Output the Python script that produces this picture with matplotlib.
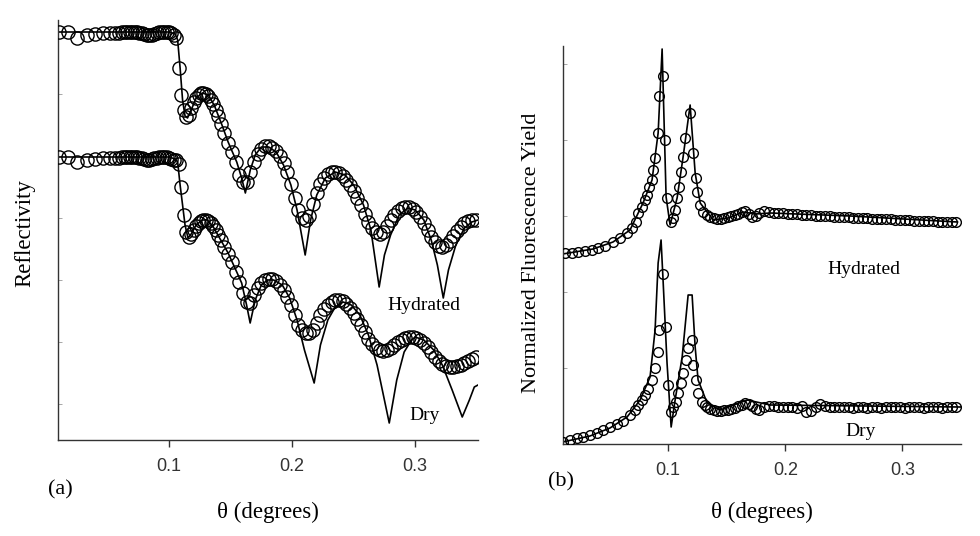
import matplotlib
matplotlib.use("Agg")
import matplotlib.pyplot as plt

# ---------- (a) reflectivity: measured angles (deg) and log-reflectivity (arb.) ----------
theta_refl = [
    0.011, 0.018, 0.025, 0.033, 0.040, 0.046, 0.052, 0.056, 0.059, 0.062,
    0.064, 0.066, 0.068, 0.070, 0.072, 0.074, 0.076, 0.078, 0.080, 0.082,
    0.084, 0.086, 0.088, 0.090, 0.092, 0.094, 0.096, 0.098, 0.100, 0.102,
    0.104, 0.106, 0.108, 0.110, 0.112, 0.114, 0.116, 0.118, 0.120, 0.122,
    0.124, 0.126, 0.128, 0.130, 0.132, 0.134, 0.136, 0.138, 0.140, 0.142,
    0.145, 0.148, 0.151, 0.154, 0.157, 0.160, 0.163, 0.166, 0.169, 0.172,
    0.175, 0.178, 0.181, 0.184, 0.187, 0.190, 0.193, 0.196, 0.199, 0.202,
    0.205, 0.208, 0.211, 0.214, 0.217, 0.220, 0.223, 0.226, 0.229, 0.232,
    0.235, 0.238, 0.241, 0.244, 0.247, 0.250, 0.253, 0.256, 0.259, 0.262,
    0.265, 0.268, 0.271, 0.274, 0.277, 0.280, 0.283, 0.286, 0.289, 0.292,
    0.295, 0.298, 0.301, 0.304, 0.307, 0.310, 0.313, 0.316, 0.319, 0.322,
    0.325, 0.328, 0.331, 0.334, 0.337, 0.340, 0.343, 0.346, 0.349,
]
refl_hyd = [
    4.08, 4.08, 4.02, 4.05, 4.06, 4.07, 4.07, 4.07, 4.07, 4.08,
    4.08, 4.08, 4.08, 4.08, 4.08, 4.08, 4.07, 4.07, 4.06, 4.05,
    4.05, 4.05, 4.06, 4.07, 4.08, 4.08, 4.08, 4.08, 4.08, 4.07,
    4.05, 4.02, 3.72, 3.45, 3.30, 3.23, 3.25, 3.32, 3.38, 3.42,
    3.45, 3.47, 3.47, 3.46, 3.44, 3.40, 3.36, 3.30, 3.24, 3.16,
    3.07, 2.97, 2.88, 2.78, 2.65, 2.58, 2.58, 2.68, 2.78, 2.86,
    2.91, 2.94, 2.94, 2.92, 2.89, 2.84, 2.77, 2.68, 2.56, 2.42,
    2.30, 2.22, 2.20, 2.24, 2.36, 2.47, 2.56, 2.62, 2.66, 2.68,
    2.68, 2.67, 2.64, 2.60, 2.55, 2.49, 2.42, 2.35, 2.26, 2.18,
    2.12, 2.08, 2.06, 2.08, 2.14, 2.20, 2.25, 2.29, 2.32, 2.33,
    2.33, 2.31, 2.28, 2.23, 2.17, 2.10, 2.03, 1.98, 1.94, 1.93,
    1.95, 1.99, 2.04, 2.09, 2.13, 2.17, 2.19, 2.20, 2.20,
]
refl_dry = [
    2.83, 2.83, 2.78, 2.80, 2.81, 2.82, 2.82, 2.82, 2.82, 2.83,
    2.83, 2.83, 2.83, 2.83, 2.83, 2.83, 2.82, 2.82, 2.81, 2.80,
    2.80, 2.81, 2.82, 2.82, 2.83, 2.83, 2.83, 2.83, 2.82, 2.81,
    2.80, 2.80, 2.76, 2.53, 2.25, 2.08, 2.03, 2.06, 2.10, 2.14,
    2.17, 2.19, 2.20, 2.20, 2.19, 2.17, 2.14, 2.10, 2.05, 2.00,
    1.93, 1.86, 1.78, 1.68, 1.58, 1.47, 1.38, 1.37, 1.45, 1.52,
    1.57, 1.60, 1.61, 1.61, 1.59, 1.55, 1.50, 1.43, 1.35, 1.25,
    1.15, 1.10, 1.07, 1.07, 1.10, 1.17, 1.25, 1.31, 1.35, 1.38,
    1.40, 1.40, 1.39, 1.36, 1.32, 1.27, 1.21, 1.15, 1.08, 1.01,
    0.96, 0.92, 0.90, 0.89, 0.90, 0.92, 0.95, 0.98, 1.00, 1.02,
    1.03, 1.03, 1.02, 1.00, 0.97, 0.93, 0.88, 0.83, 0.79, 0.76,
    0.74, 0.73, 0.73, 0.74, 0.75, 0.77, 0.79, 0.81, 0.83,
]

# fitted curves
fit_hyd_theta = [0.010, 0.050, 0.100, 0.105, 0.107, 0.109, 0.111, 0.113, 0.115, 0.118,
                 0.122, 0.127, 0.132, 0.137, 0.143, 0.148, 0.155, 0.159, 0.162, 0.166,
                 0.170, 0.175, 0.181, 0.187, 0.193, 0.199, 0.204, 0.2106, 0.215, 0.220,
                 0.227, 0.235, 0.243, 0.250, 0.258, 0.264, 0.2707, 0.275, 0.280, 0.287,
                 0.294, 0.300, 0.307, 0.313, 0.318, 0.3228, 0.327, 0.333, 0.340, 0.346,
                 0.351]
fit_hyd = [4.08, 4.08, 4.08, 4.06, 4.00, 3.72, 3.40, 3.24, 3.22, 3.30,
           3.42, 3.47, 3.45, 3.34, 3.15, 2.98, 2.78, 2.62, 2.47, 2.70,
           2.85, 2.93, 2.93, 2.88, 2.75, 2.55, 2.30, 1.85, 2.20, 2.45,
           2.62, 2.68, 2.65, 2.55, 2.35, 2.10, 1.53, 1.85, 2.05, 2.25,
           2.32, 2.30, 2.20, 2.00, 1.75, 1.42, 1.70, 1.95, 2.12, 2.18,
           2.20]
fit_dry_theta = [0.010, 0.050, 0.100, 0.105, 0.107, 0.109, 0.111, 0.113, 0.1154, 0.118,
                 0.122, 0.127, 0.131, 0.136, 0.142, 0.148, 0.155, 0.159, 0.163, 0.1659,
                 0.170, 0.175, 0.180, 0.185, 0.192, 0.198, 0.204, 0.210, 0.2179, 0.223,
                 0.229, 0.235, 0.2415, 0.248, 0.255, 0.262, 0.269, 0.2789, 0.285, 0.291,
                 0.297, 0.300, 0.307, 0.315, 0.322, 0.330, 0.3382, 0.344, 0.348, 0.351]
fit_dry = [2.83, 2.83, 2.83, 2.81, 2.78, 2.55, 2.35, 2.15, 2.02, 2.06,
           2.15, 2.20, 2.20, 2.13, 2.00, 1.87, 1.68, 1.57, 1.35, 1.17,
           1.40, 1.55, 1.60, 1.60, 1.55, 1.42, 1.20, 0.90, 0.57, 0.95,
           1.20, 1.33, 1.38, 1.35, 1.25, 1.05, 0.75, 0.17, 0.60, 0.88,
           1.00, 1.03, 1.00, 0.90, 0.75, 0.50, 0.23, 0.40, 0.53, 0.55]

# ---------- (b) fluorescence yield ----------
theta_tail = [
    0.133, 0.136, 0.139, 0.142, 0.145, 0.148, 0.151, 0.154, 0.157, 0.160,
    0.163, 0.166, 0.169, 0.172, 0.175, 0.178,
    0.182, 0.186, 0.190, 0.194, 0.198, 0.202, 0.206, 0.210, 0.214, 0.218,
    0.222, 0.226, 0.230, 0.234, 0.238, 0.242, 0.246, 0.250, 0.254, 0.258,
    0.262, 0.266, 0.270, 0.274, 0.278, 0.282, 0.286, 0.290, 0.294, 0.298,
    0.302, 0.306, 0.310, 0.314, 0.318, 0.322, 0.326, 0.330, 0.334, 0.338,
    0.342, 0.346,
]
theta_fl_hyd = [
    0.012, 0.018, 0.023, 0.029, 0.035, 0.040, 0.046, 0.053, 0.059, 0.065,
    0.069, 0.0726, 0.0746, 0.0775, 0.0803, 0.0823, 0.0840, 0.0861, 0.0874, 0.0889,
    0.0912, 0.0926, 0.0960, 0.0974, 0.0989, 0.1023, 0.1045, 0.1060, 0.1079, 0.1097,
    0.1108, 0.1131, 0.1148, 0.1188, 0.1216, 0.1237, 0.1250, 0.1274, 0.1302,
] + theta_tail
fl_hyd = [
    1.91, 1.91, 1.92, 1.93, 1.94, 1.96, 1.98, 2.02, 2.06, 2.11,
    2.16, 2.22, 2.31, 2.37, 2.44, 2.49, 2.57, 2.64, 2.74, 2.86,
    3.11, 3.48, 3.68, 3.04, 2.46, 2.22, 2.26, 2.34, 2.46, 2.57,
    2.72, 2.87, 3.06, 3.31, 2.91, 2.66, 2.52, 2.39, 2.32,
    2.29, 2.27, 2.26, 2.25, 2.25, 2.26, 2.27, 2.28, 2.29, 2.30,
    2.32, 2.33, 2.30, 2.27, 2.28, 2.31,
    2.33, 2.32, 2.31, 2.31, 2.31, 2.30, 2.30, 2.30, 2.29, 2.29,
    2.29, 2.28, 2.28, 2.28, 2.28, 2.27, 2.27, 2.27, 2.27, 2.26,
    2.26, 2.26, 2.26, 2.25, 2.25, 2.25, 2.25, 2.25, 2.24, 2.24,
    2.24, 2.24, 2.23, 2.23, 2.23, 2.23, 2.23, 2.22, 2.22, 2.22,
    2.22, 2.22,
]
theta_fl_dry = [
    0.0105, 0.0162, 0.0220, 0.0276, 0.0333, 0.0391, 0.0447, 0.0504, 0.0562, 0.0618,
    0.0675, 0.0718, 0.0746, 0.0775, 0.0803, 0.0832, 0.0861, 0.0889, 0.0912, 0.0925,
    0.0960, 0.0978, 0.0996, 0.1022, 0.1045, 0.1068, 0.1088, 0.1108, 0.1131, 0.1151,
    0.1168, 0.1203, 0.1216, 0.1237, 0.1259, 0.1288, 0.1316,
] + theta_tail
fl_dry = [
    0.02, 0.04, 0.06, 0.07, 0.09, 0.11, 0.14, 0.17, 0.20, 0.23,
    0.29, 0.34, 0.39, 0.44, 0.49, 0.55, 0.64, 0.76, 0.92, 1.14,
    1.70, 1.17, 0.59, 0.32, 0.37, 0.42, 0.51, 0.61, 0.71, 0.84,
    0.96, 1.04, 0.79, 0.64, 0.51, 0.42, 0.39,
    0.37, 0.35, 0.34, 0.33, 0.33, 0.34, 0.34, 0.35, 0.36, 0.38,
    0.39, 0.41, 0.40, 0.38, 0.35, 0.34,
    0.37, 0.38, 0.38, 0.37, 0.37, 0.37, 0.37, 0.36, 0.38, 0.32,
    0.33, 0.37, 0.40, 0.38, 0.37, 0.37, 0.37, 0.37, 0.37, 0.36,
    0.37, 0.37, 0.36, 0.37, 0.37, 0.36, 0.37, 0.37, 0.37, 0.37,
    0.36, 0.37, 0.37, 0.37, 0.36, 0.37, 0.37, 0.37, 0.36, 0.37,
    0.37, 0.37,
]

fit_fl_hyd_theta = [0.010, 0.0359, 0.0530, 0.0675, 0.0786, 0.0863, 0.0915, 0.0949, 0.0983, 0.1017,
                    0.1077, 0.1128, 0.1188, 0.1231, 0.1274, 0.1385, 0.1513, 0.1641, 0.1744, 0.1872,
                    0.2556, 0.3470]
fit_fl_hyd = [1.90, 1.95, 2.02, 2.14, 2.41, 2.64, 3.11, 3.95, 2.47, 2.19,
              2.46, 2.87, 3.39, 2.71, 2.41, 2.24, 2.26, 2.32, 2.30, 2.31,
              2.28, 2.22]
fit_fl_dry_theta = [0.010, 0.0333, 0.0504, 0.0650, 0.0761, 0.0846, 0.0889, 0.0915, 0.0940, 0.0957,
                    0.0991, 0.1026, 0.1060, 0.1120, 0.1171, 0.1205, 0.1231, 0.1256, 0.1333, 0.1444,
                    0.1675, 0.1872, 0.3496]
fit_fl_dry = [0.02, 0.08, 0.16, 0.27, 0.44, 0.67, 1.14, 1.81, 2.04, 1.64,
              0.81, 0.17, 0.44, 0.87, 1.49, 1.49, 0.97, 0.64, 0.41, 0.34,
              0.44, 0.39, 0.37]

xticks = [0.1, 0.2, 0.3]
xticklabels = ['0.1', '0.2', '0.3']

SERIF = ['Liberation Serif', 'DejaVu Serif']
SANS = ['Liberation Sans', 'DejaVu Sans']


def style_axes(ax, xlim, ylim, yticks):
    ax.set_xlim(*xlim)
    ax.set_ylim(*ylim)
    for s in ('top', 'right'):
        ax.spines[s].set_visible(False)
    for s in ('left', 'bottom'):
        ax.spines[s].set_linewidth(1.0)
        ax.spines[s].set_color('#333333')
    ax.set_xticks(xticks)
    ax.set_xticklabels(xticklabels, fontfamily=SANS, fontsize=13)
    ax.tick_params(axis='x', direction='out', length=5, width=1.0, pad=8, colors='#333333')
    ax.set_yticks(yticks)
    ax.set_yticklabels([])
    ax.tick_params(axis='y', direction='in', length=3, width=0.6, colors='#999999')


fig = plt.figure(figsize=(9.8, 5.36), dpi=100)
axa = fig.add_axes([58 / 980, 96 / 536, 420 / 980, 420 / 536])
axb = fig.add_axes([563 / 980, 92 / 536, 398 / 980, 398 / 536])

# ---------- panel (a) ----------
axa.plot(fit_hyd_theta, fit_hyd, color='black', lw=1.2, zorder=2)
axa.plot(fit_dry_theta, fit_dry, color='black', lw=1.2, zorder=2)
axa.plot(theta_refl, refl_hyd, 'o', ms=9.5, mfc='none', mec='black', mew=1.0, zorder=3)
axa.plot(theta_refl, refl_dry, 'o', ms=9.5, mfc='none', mec='black', mew=1.0, zorder=3)
style_axes(axa, (0.0098, 0.351), (0.0, 4.2), [3.46, 2.84, 2.22, 1.60, 0.98, 0.36])
axa.text(0.3073, 1.35, 'Hydrated', fontfamily=SERIF, fontsize=14, ha='center', va='center')
axa.text(0.308, 0.25, 'Dry', fontfamily=SERIF, fontsize=14, ha='center', va='center')

# ---------- panel (b) ----------
axb.plot(fit_fl_hyd_theta, fit_fl_hyd, color='black', lw=1.2, zorder=2)
axb.plot(fit_fl_dry_theta, fit_fl_dry, color='black', lw=1.2, zorder=2)
axb.plot(theta_fl_hyd, fl_hyd, 'o', ms=7, mfc='none', mec='black', mew=1.0, zorder=3)
axb.plot(theta_fl_dry, fl_dry, 'o', ms=7, mfc='none', mec='black', mew=1.0, zorder=3)
style_axes(axb, (0.0103, 0.350), (0.0, 3.98), [3.80, 3.04, 2.28, 1.52, 0.76])
axb.text(0.2667, 1.74, 'Hydrated', fontfamily=SERIF, fontsize=14, ha='center', va='center')
axb.text(0.2641, 0.12, 'Dry', fontfamily=SERIF, fontsize=14, ha='center', va='center')

# ---------- labels ----------
fig.text(268 / 980, 1 - 512 / 536, 'θ (degrees)', fontfamily=SERIF, fontsize=16.5,
         ha='center', va='center')
fig.text(762 / 980, 1 - 512 / 536, 'θ (degrees)', fontfamily=SERIF, fontsize=16.5,
         ha='center', va='center')
fig.text(25 / 980, 1 - 233 / 536, 'Reflectivity', fontfamily=SERIF, fontsize=16.5,
         rotation=90, ha='center', va='center')
fig.text(532 / 980, 1 - 253 / 536, 'Normalized Fluorescence Yield', fontfamily=SERIF,
         fontsize=16, rotation=90, ha='center', va='center')
fig.text(60 / 980, 1 - 490 / 536, '(a)', fontfamily=SERIF, fontsize=16, ha='center', va='center')
fig.text(561 / 980, 1 - 482 / 536, '(b)', fontfamily=SERIF, fontsize=16, ha='center', va='center')

fig.savefig('out.png', dpi=100, facecolor='white')
